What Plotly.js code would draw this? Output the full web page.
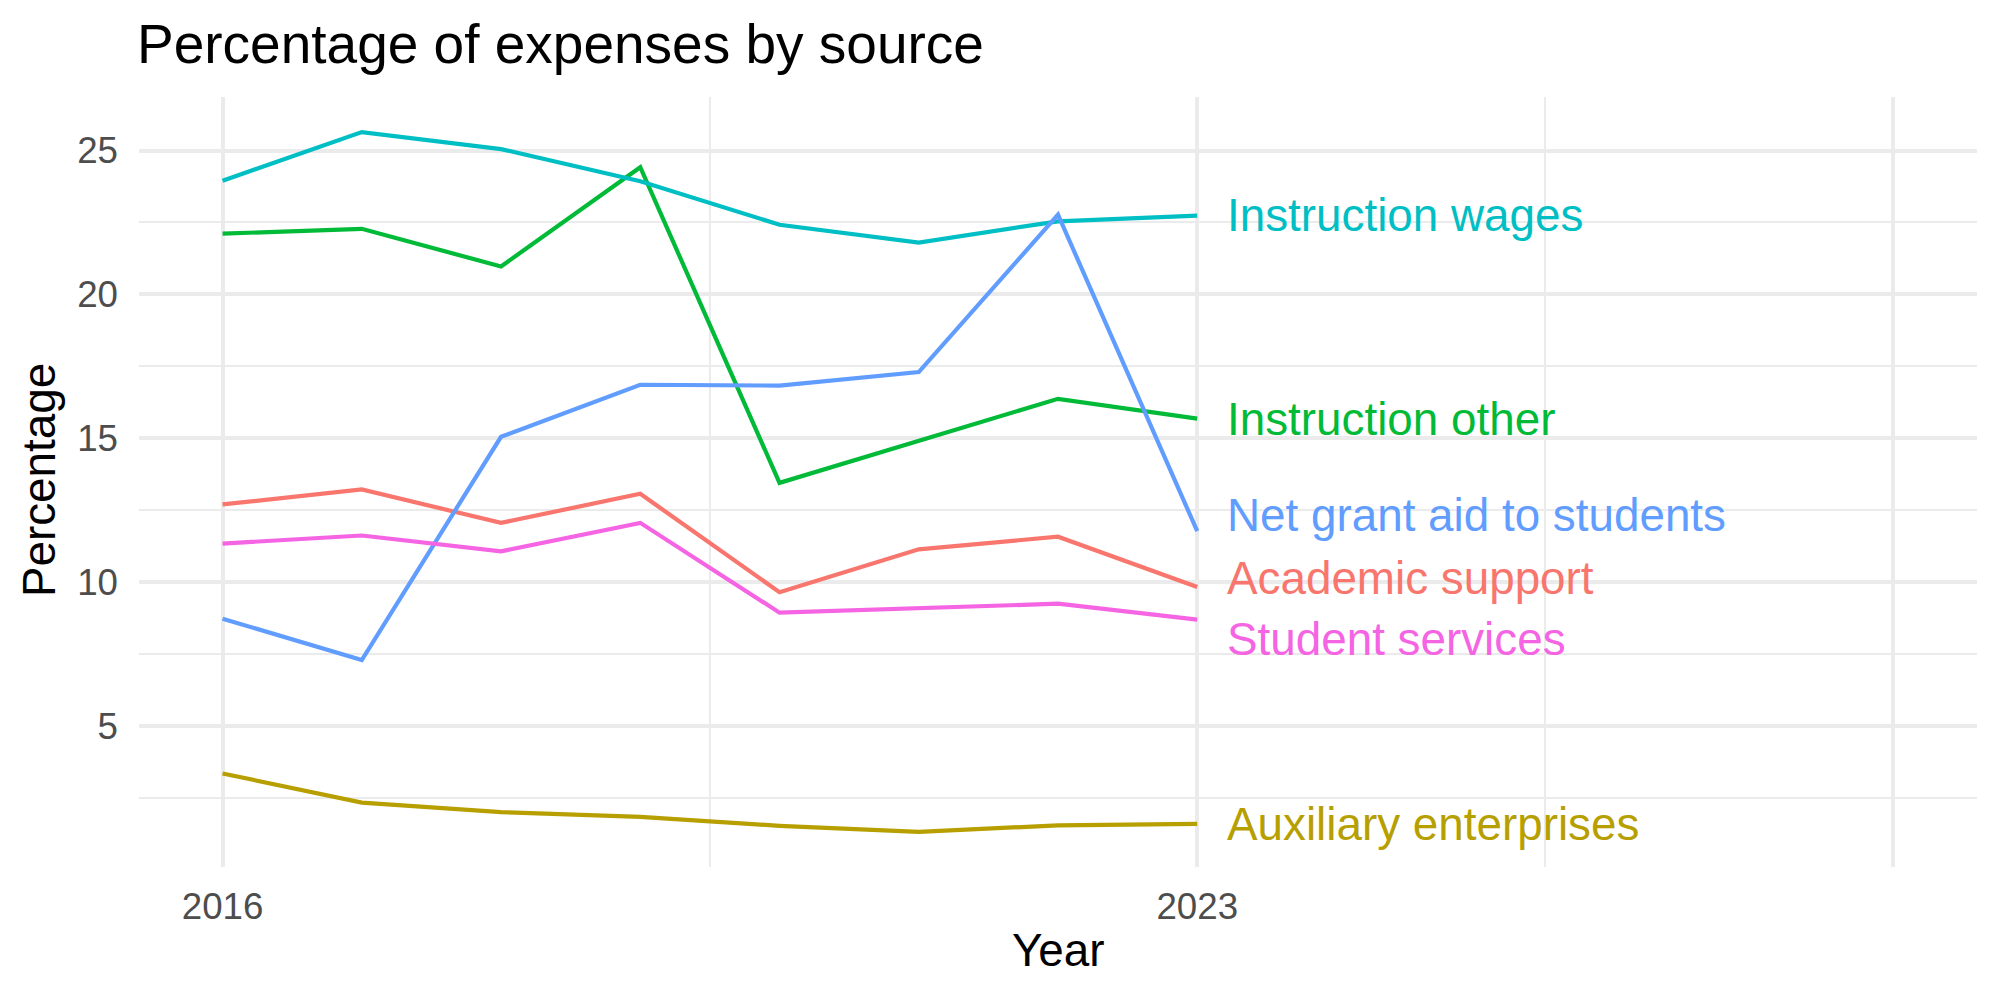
<!DOCTYPE html>
<html>
<head>
<meta charset="utf-8">
<script src="https://cdn.plot.ly/plotly-3.0.1.min.js"></script>
<style>
  html, body { margin: 0; padding: 0; background: #ffffff; }
  #chart { width: 2000px; height: 1000px; }
</style>
</head>
<body>
<div id="chart"></div>
<script>
// Share of expenses (%) per year, one array per source
const years = [2016, 2017, 2018, 2019, 2020, 2021, 2022, 2023];
const academicSupport      = [12.70, 13.22, 12.06, 13.07,  9.65, 11.14, 11.58,  9.83];
const auxiliaryEnterprises = [ 3.35,  2.34,  2.01,  1.84,  1.53,  1.32,  1.55,  1.60];
const instructionOther     = [22.11, 22.28, 20.97, 24.42, 13.45, 14.92, 16.37, 15.68];
const instructionWages     = [23.95, 25.64, 25.05, 23.93, 22.42, 21.80, 22.54, 22.74];
const netGrantAid          = [ 8.73,  7.29, 15.05, 16.86, 16.83, 17.30, 22.77, 11.77];
const studentServices      = [11.34, 11.62, 11.07, 12.06,  8.94,  9.11,  9.25,  8.70];

const seriesNames = [
  "Academic support",
  "Auxiliary enterprises",
  "Instruction other",
  "Instruction wages",
  "Net grant aid to students",
  "Student services"
];
const seriesValues = [
  academicSupport, auxiliaryEnterprises, instructionOther,
  instructionWages, netGrantAid, studentServices
];

// Axis ticks
const xTickVals = [2016, 2023, 2028];
const xTickText = ["2016", "2023", ""];
const yTickVals = [5, 10, 15, 20, 25];
const yTickText = ["5", "10", "15", "20", "25"];

// ---- styling / placement ----
const palette = ["#F8766D", "#B79F00", "#00BA38", "#00BFC4", "#619CFF", "#F564E3"];
// vertical spots for the end-of-line labels (spread apart so they don't collide)
const labelY = [10.14, 1.57, 15.65, 22.73, 12.32, 8.0];
const labelX = 2023.2;
const FONT = "'Liberation Sans', Arial, Helvetica, sans-serif";

const traces = seriesNames.map((name, i) => ({
  type: "scatter",
  mode: "lines",
  name: name,
  x: years,
  y: seriesValues[i],
  line: { color: palette[i], width: 4.2 },
  showlegend: false,
  hoverinfo: "x+y+name"
}));

const annotations = seriesNames.map((name, i) => ({
  text: name,
  x: labelX,
  y: labelY[i],
  xref: "x",
  yref: "y",
  xanchor: "left",
  yanchor: "middle",
  showarrow: false,
  font: { family: FONT, size: 45.8, color: palette[i] }
}));

// axis titles
annotations.push({
  text: "Year",
  xref: "paper", yref: "paper",
  x: 0.5, y: -0.1088,
  xanchor: "center", yanchor: "middle",
  showarrow: false,
  font: { family: FONT, size: 45.8, color: "#000000" }
});
annotations.push({
  text: "Percentage",
  xref: "paper", yref: "paper",
  x: -0.0538, y: 0.5026,
  xanchor: "center", yanchor: "middle",
  textangle: -90,
  showarrow: false,
  font: { family: FONT, size: 45.8, color: "#000000" }
});

const gridMajor = "#EBEBEB";

const layout = {
  width: 2000,
  height: 1000,
  paper_bgcolor: "#ffffff",
  plot_bgcolor: "#ffffff",
  margin: { l: 139, r: 23, t: 97, b: 133, pad: 0 },
  font: { family: FONT },
  title: {
    text: "Percentage of expenses by source",
    xref: "container", yref: "container",
    x: 0.0685, y: 0.956,
    xanchor: "left", yanchor: "middle",
    font: { family: FONT, size: 55, color: "#000000" }
  },
  xaxis: {
    range: [2015.4, 2028.6],
    tickmode: "array",
    tickvals: xTickVals,
    ticktext: xTickText,
    showgrid: true,
    gridcolor: gridMajor,
    gridwidth: 4,
    zeroline: false,
    showline: false,
    ticks: "",
    ticklabelstandoff: 14,
    tickfont: { family: FONT, size: 36.7, color: "#4D4D4D" },
    minor: { tickmode: "array", tickvals: [2019.5, 2025.5], showgrid: true, gridcolor: gridMajor, gridwidth: 2, ticks: "" },
    fixedrange: true
  },
  yaxis: {
    range: [0.10, 26.86],
    tickmode: "array",
    tickvals: yTickVals,
    ticktext: yTickText,
    showgrid: true,
    gridcolor: gridMajor,
    gridwidth: 4,
    zeroline: false,
    showline: false,
    ticks: "",
    ticklabelstandoff: 20,
    tickfont: { family: FONT, size: 36.7, color: "#4D4D4D" },
    minor: { tickmode: "array", tickvals: [2.5, 7.5, 12.5, 17.5, 22.5], showgrid: true, gridcolor: gridMajor, gridwidth: 2, ticks: "" },
    fixedrange: true
  },
  annotations: annotations,
  showlegend: false
};

Plotly.newPlot("chart", traces, layout, { displayModeBar: false, staticPlot: true });
</script>
</body>
</html>
